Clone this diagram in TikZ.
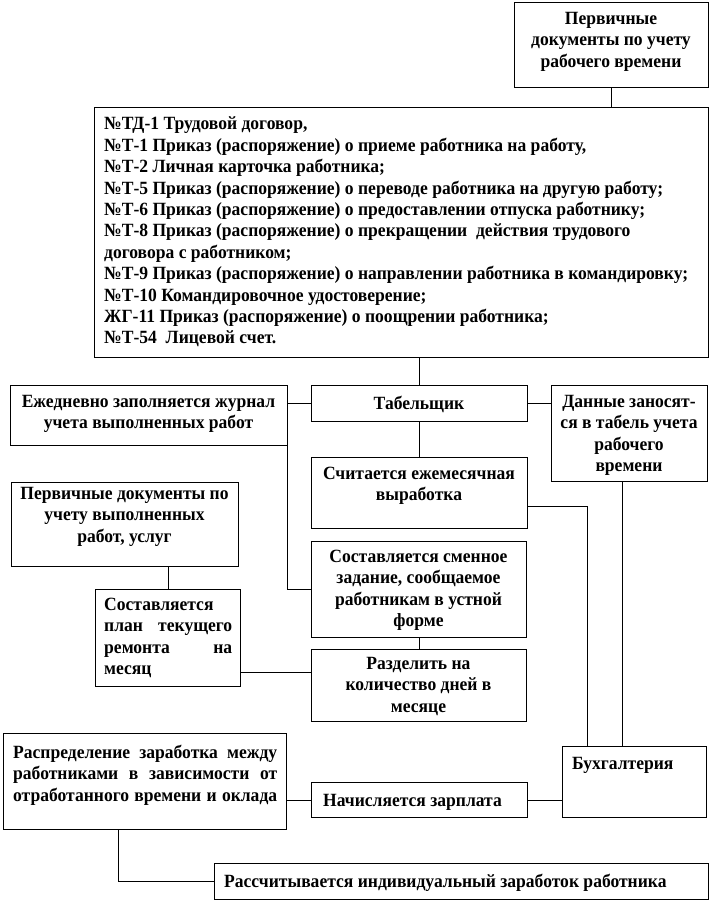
\documentclass[tikz,border=0pt]{standalone}
\usepackage{fontspec}
\setmainfont{Liberation Serif}[FakeStretch=0.94]
\begin{document}
\begin{tikzpicture}[x=1pt,y=-1pt,
  bx/.style={draw, line width=0.9pt, inner sep=0pt, anchor=north west},
  tx/.style={inner sep=0pt, yshift=-2.5pt, font=\fontsize{18.67}{21.5}\selectfont\bfseries, execute at begin node=\strut},
  ctx/.style={tx, anchor=north, align=center},
  ltx/.style={tx, anchor=north west, align=left},
  ln/.style={line width=0.9pt}]
\useasboundingbox (0,0) rectangle (710,902);

% boxes
\node[bx, minimum width=194, minimum height=85] (top) at (514,2) {};
\node[bx, minimum width=614, minimum height=250] (big) at (94,107) {};
\node[bx, minimum width=277, minimum height=60] (ezh) at (10,385) {};
\node[bx, minimum width=216, minimum height=36] (tab) at (311,385) {};
\node[bx, minimum width=156, minimum height=96] (dan) at (551,385) {};
\node[bx, minimum width=216, minimum height=71] (sch) at (311,457) {};
\node[bx, minimum width=227, minimum height=84] (pdv) at (11,482) {};
\node[bx, minimum width=215, minimum height=96] (smn) at (311,541) {};
\node[bx, minimum width=145, minimum height=97] (plan) at (95,589) {};
\node[bx, minimum width=215, minimum height=72] (razd) at (311,649) {};
\node[bx, minimum width=144, minimum height=71] (buh) at (562,746) {};
\node[bx, minimum width=216, minimum height=35] (nach) at (311,782) {};
\node[bx, minimum width=283, minimum height=96] (rasp) at (3,733) {};
\node[bx, minimum width=494, minimum height=36] (rassch) at (214,863) {};

% texts
\node[ctx] (t-top) at (611,9.25) {Первичные\\документы по учету\\рабочего времени};
\node[ltx, font=\fontsize{18.67}{21.4}\selectfont\bfseries] (t-big) at (104,114.25) {№ТД-1 Трудовой договор,\\
№Т-1 Приказ (распоряжение) о приеме работника на работу,\\
№Т-2 Личная карточка работника;\\
№Т-5 Приказ (распоряжение) о переводе работника на другую работу;\\
№Т-6 Приказ (распоряжение) о предоставлении отпуска работнику;\\
№Т-8 Приказ (распоряжение) о прекращении \ действия трудового\\
договора с работником;\\
№Т-9 Приказ (распоряжение) о направлении работника в командировку;\\
№Т-10 Командировочное удостоверение;\\
ЖГ-11 Приказ (распоряжение) о поощрении работника;\\
№Т-54 \ Лицевой счет.};
\node[ctx] (t-ezh) at (148.5,392.25) {Ежедневно заполняется журнал\\учета выполненных работ};
\node[ctx] (t-tab) at (419,391.25) {Табельщик};
\node[ctx] (t-dan) at (629,392.25) {Данные заносят-\\ся в табель учета\\рабочего\\времени};
\node[ctx] (t-sch) at (419,464.25) {Считается ежемесячная\\выработка};
\node[ctx] (t-pdv) at (124.5,484.25) {Первичные документы по\\учету выполненных\\работ, услуг};
\node[ctx] (t-smn) at (418.5,547.25) {Составляется сменное\\задание, сообщаемое\\работникам в устной\\форме};
\node[ltx] (t-plan) at (104,595.25) {Составляется\\\makebox[128pt][s]{план текущего}\\\makebox[128pt][s]{ремонта на}\\месяц};
\node[ctx] (t-razd) at (418.5,654.25) {Разделить на\\количество дней в\\месяце};
\node[ltx] (t-buh) at (572,751.25) {Бухгалтерия};
\node[ltx] (t-nach) at (323,788.25) {Начисляется зарплата};
\node[ltx] (t-rasp) at (13,742.25) {\makebox[264pt][s]{Распределение заработка между}\\\makebox[264pt][s]{работниками в зависимости от}\\\makebox[264pt][s]{отработанного времени и оклада}};
\node[ltx] (t-rassch) at (224,869.25) {Рассчитывается индивидуальный заработок работника};

% connectors
\draw[ln] (top.south) -- (top.south |- big.north);
\draw[ln] (tab.north) -- (tab.north |- big.south);
\draw[ln] (tab.west) -- (tab.west -| ezh.east);
\draw[ln] (tab.east) -- (tab.east -| dan.west);
\draw[ln] (tab.south) -- (sch.north);
\coordinate (se) at ([yshift=-13.5pt]sch.east);
\coordinate (bn) at ([xshift=-47pt]buh.north);
\draw[ln] (se) -| (bn);
\coordinate (ds) at ([xshift=-7pt]dan.south);
\draw[ln] (ds) -- (ds |- buh.north);
\draw[ln] (ezh.south east) |- (smn.west);
\draw[ln] (plan.north) -- (plan.north |- pdv.south);
\draw[ln] (smn.south) -- (razd.north);
\coordinate (pr) at ([yshift=-34.5pt]plan.east);
\draw[ln] (pr) -- (pr -| razd.west);
\draw[ln] (nach.east) -- (nach.east -| buh.west);
\draw[ln] (nach.west) -- (nach.west -| rasp.east);
\coordinate (rs) at ([xshift=-26.5pt]rasp.south);
\draw[ln] (rs) |- (rassch.west);
\end{tikzpicture}
\end{document}
